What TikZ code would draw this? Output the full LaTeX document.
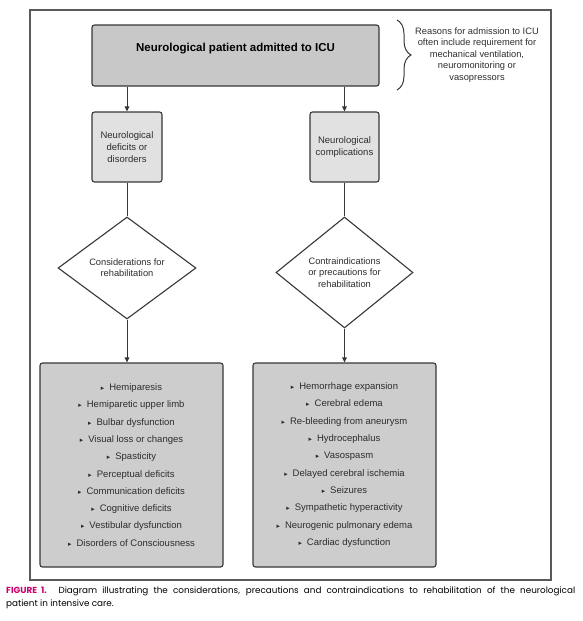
\documentclass[tikz,border=0pt]{standalone}
\usepackage{fontspec}
\setmainfont{Liberation Sans}
\newfontfamily\capfont{Poppins}
\newfontfamily\symfont{DejaVu Sans}
\usepackage{xcolor}
\usepackage{tikz}
\usetikzlibrary{arrows.meta,positioning,shapes.geometric,decorations.pathreplacing}
\definecolor{ink}{RGB}{45,45,45}
\definecolor{edge}{RGB}{55,55,55}
\definecolor{framegray}{RGB}{90,90,90}
\definecolor{topfill}{RGB}{200,200,200}
\definecolor{midfill}{RGB}{225,225,225}
\definecolor{listfill}{RGB}{205,205,205}
\definecolor{figpink}{RGB}{200,0,112}
\newcommand{\itm}[1]{{\symfont\fontsize{6.8}{6.8}\selectfont ▸}\hspace{5pt}#1}
\tikzset{
  box/.style={draw=edge,line width=1.1pt,rounded corners=2.5pt,align=center,
    text=ink,inner sep=0pt,font=\fontsize{9.5}{12}\selectfont},
  topbox/.style={box,fill=topfill,minimum width=287pt,minimum height=61pt,
    font=\bfseries\fontsize{11.5}{14}\selectfont,text=black,text depth=16pt},
  issuebox/.style={box,fill=midfill,minimum height=70pt},
  listbox/.style={box,fill=listfill,minimum width=183pt,minimum height=204pt,
    font=\fontsize{9.5}{17.3}\selectfont},
  decision/.style={diamond,draw=edge,line width=1.1pt,fill=white,shape aspect=1.3,
    inner sep=0pt,align=center,text=ink,font=\fontsize{9.3}{11.3}\selectfont},
  flow/.style={draw=edge,line width=1pt,-{Triangle[length=5pt,width=4.5pt]}},
  link/.style={draw=edge,line width=1pt},
  brace/.style={draw=edge,line width=1pt,decorate,
    decoration={brace,amplitude=14pt,aspect=0.5}},
  frame/.style={draw=framegray,line width=1.1pt},
  note/.style={align=center,text=ink,font=\fontsize{9.3}{11.5}\selectfont},
  caption/.style={text width=569pt,align=justify,inner sep=0pt,
    font=\capfont\fontsize{8.8}{12.5}\selectfont}
}
\begin{document}
\begin{tikzpicture}[x=1pt,y=-1pt]
  \useasboundingbox (0,0) rectangle (582,621);
  \draw[frame] (30,10) rectangle (551,580);
  % top of the chart
  \node[topbox] (icu) at (235.5,55.5) {Neurological patient admitted to ICU};
  \draw[brace] (397,20) -- (397,90);
  \node[note] (reasons) at (477,55) {Reasons for admission to ICU\\often include requirement for\\
    mechanical ventilation,\\neuromonitoring or\\vasopressors};
  % two branches
  \node[issuebox,minimum width=70pt] (deficits) at (127,147) {Neurological\\deficits or\\disorders};
  \node[issuebox,minimum width=69pt] (complic) at (344.5,147) {Neurological\\complications};
  \draw[flow] (icu.south -| deficits) -- (deficits);
  \draw[flow] (icu.south -| complic) -- (complic);
  \node[decision,minimum width=138pt,minimum height=102pt] (consider) at (127,268)
    {Considerations for\\rehabilitation};
  \node[decision,minimum width=137pt,minimum height=111pt] (contra) at (344.5,272.5)
    {Contraindications\\or precautions for\\rehabilitation};
  \draw[link] (deficits) -- (consider);
  \draw[link] (complic) -- (contra);
  % lists
  \node[listbox] (deflist) at (131.5,465) {\itm{Hemiparesis}\\\itm{Hemiparetic upper limb}\\
    \itm{Bulbar dysfunction}\\\itm{Visual loss or changes}\\\itm{Spasticity}\\
    \itm{Perceptual deficits}\\\itm{Communication deficits}\\\itm{Cognitive deficits}\\
    \itm{Vestibular dysfunction}\\\itm{Disorders of Consciousness}};
  \node[listbox] (complist) at (344.5,465) {\itm{Hemorrhage expansion}\\\itm{Cerebral edema}\\
    \itm{Re-bleeding from aneurysm}\\\itm{Hydrocephalus}\\\itm{Vasospasm}\\
    \itm{Delayed cerebral ischemia}\\\itm{Seizures}\\\itm{Sympathetic hyperactivity}\\
    \itm{Neurogenic pulmonary edema}\\\itm{Cardiac dysfunction}};
  \draw[flow] (consider.south) -- (consider.south |- deflist.north);
  \draw[flow] (contra.south) -- (contra.south |- complist.north);
  % caption
  \node[caption,anchor=north west] (cap) at (6,587)
    {{\bfseries\color{figpink}FIGURE 1.} Diagram illustrating the considerations, precautions and
     contraindications to rehabilitation of the neurological\linebreak patient in intensive care.};
\end{tikzpicture}
\end{document}
